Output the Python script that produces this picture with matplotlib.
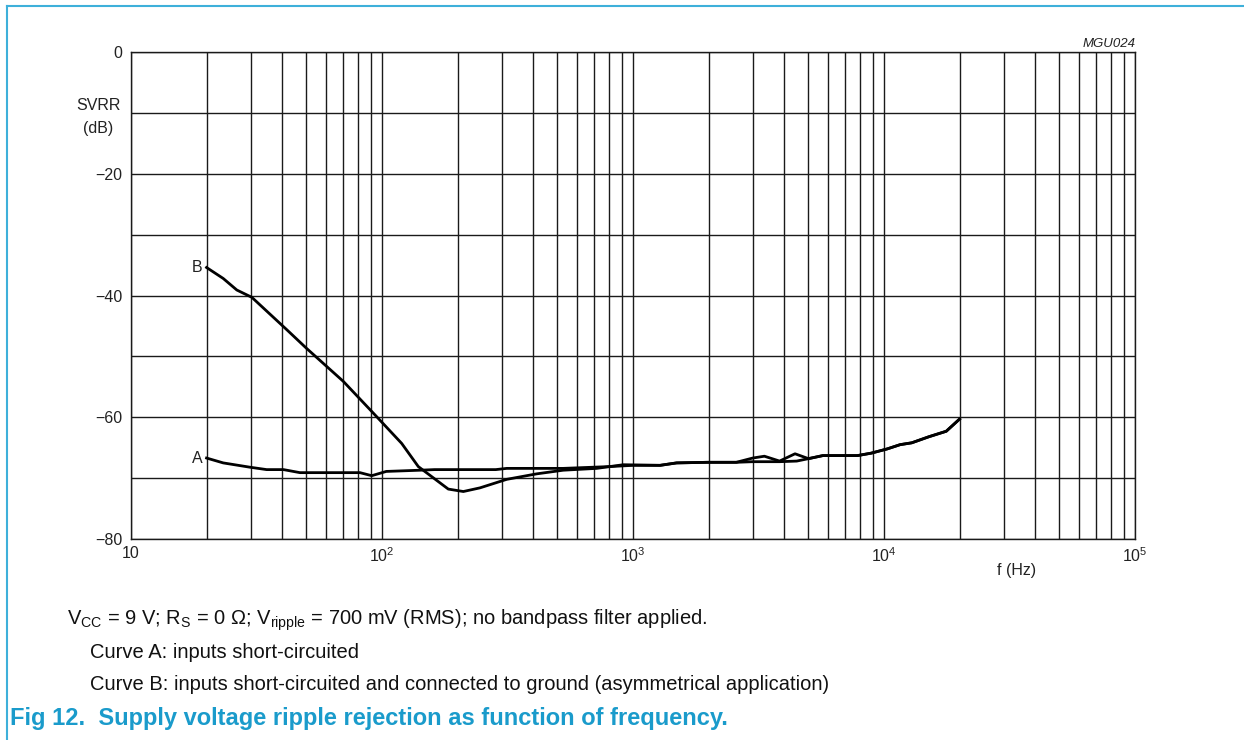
import matplotlib
matplotlib.use('Agg')
import matplotlib.pyplot as plt
from matplotlib.lines import Line2D
from matplotlib.ticker import FixedLocator, NullFormatter
import numpy as np

plt.rcParams['font.family'] = ['Liberation Sans', 'DejaVu Sans']
plt.rcParams['mathtext.fontset'] = 'custom'
plt.rcParams['mathtext.rm'] = 'Liberation Sans'
plt.rcParams['mathtext.default'] = 'regular'

# curve A: inputs short-circuited
freq_a = [20, 23.3, 29.7, 34.7, 40.5, 47.1, 81.7, 91, 104, 141.7, 162, 284, 314,
          527, 810, 1000, 1282, 1492, 1984, 2580, 3000, 3837, 4490, 5003,
          5703, 7836, 8890, 10300, 11600, 12900, 15100, 17700, 20000]
svrr_a = [-66.7, -67.5, -68.2, -68.6, -68.6, -69.1, -69.1, -69.6, -68.9, -68.7, -68.6, -68.6, -68.4,
          -68.4, -68.1, -67.9, -67.9, -67.5, -67.4, -67.4, -67.3, -67.3, -67.2, -66.8,
          -66.3, -66.3, -65.9, -65.2, -64.5, -64.2, -63.2, -62.3, -60.3]

# curve B: inputs short-circuited and connected to ground
freq_b = [20, 23.3, 26.4, 30.3, 41.7, 50.1, 70.1, 95.2, 119.8, 139.5, 183.7, 210.9,
          245.6, 314, 413, 527, 716, 915, 1282, 1492, 1984, 2580, 3000, 3338,
          3837, 4421, 5003, 5703, 7836, 8890, 10300, 11600, 12900, 15100, 17700, 20000]
svrr_b = [-35.4, -37.2, -39.1, -40.3, -45.6, -48.7, -54.1, -59.9, -64.3, -68.1, -71.8, -72.2,
          -71.6, -70.2, -69.3, -68.7, -68.4, -67.8, -67.9, -67.5, -67.4, -67.4, -66.7, -66.4,
          -67.2, -66.0, -66.8, -66.3, -66.3, -65.9, -65.2, -64.5, -64.2, -63.2, -62.3, -60.3]

decades = [10, 100, 1000, 10000, 100000]
decade_labels = ['10', '$10^2$', '$10^3$', '$10^4$', '$10^5$']
y_major = [0, -20, -40, -60, -80]
y_labels = ['0', '\u221220', '\u221240', '\u221260', '\u221280']
y_minor = [-10, -30, -50, -70]

TXT = '#222222'
FS = 11.5

fig = plt.figure(figsize=(12.44, 7.40), dpi=100)
ax = fig.add_axes([131 / 1244, 1 - 539 / 740, (1135 - 131) / 1244, (539 - 52) / 740])

ax.set_xscale('log')
ax.set_xlim(10, 1e5)
ax.set_ylim(-80, 0)

minor_x = [m * d for d in decades[:-1] for m in range(2, 10)]
ax.xaxis.set_major_locator(FixedLocator(decades))
ax.xaxis.set_minor_locator(FixedLocator(minor_x))
ax.xaxis.set_minor_formatter(NullFormatter())
ax.set_xticklabels(decade_labels)
ax.yaxis.set_major_locator(FixedLocator(y_major))
ax.yaxis.set_minor_locator(FixedLocator(y_minor))
ax.set_yticklabels(y_labels)

ax.tick_params(which='both', length=0, labelsize=FS, colors=TXT)
ax.tick_params(axis='x', pad=5)
ax.tick_params(axis='y', pad=6)
ax.grid(which='both', color='#1a1a1a', linewidth=1.0)
for sp in ax.spines.values():
    sp.set_color('#1a1a1a')
    sp.set_linewidth(1.0)

ax.plot(freq_a, svrr_a, color='black', linewidth=2.0, zorder=3)
ax.plot(freq_b, svrr_b, color='black', linewidth=2.0, zorder=3)

ax.text(19.3, svrr_a[0], 'A', ha='right', va='center', fontsize=FS, color=TXT)
ax.text(19.3, svrr_b[0], 'B', ha='right', va='center', fontsize=FS, color=TXT)

fig.text(98 / 1244, 1 - 105 / 740, 'SVRR', ha='center', va='center', fontsize=FS, color=TXT)
fig.text(98 / 1244, 1 - 129 / 740, '(dB)', ha='center', va='center', fontsize=FS, color=TXT)
fig.text(1017 / 1244, 1 - 571 / 740, 'f (Hz)', ha='center', va='center', fontsize=FS, color=TXT)
fig.text(1136 / 1244, 1 - 44 / 740, 'MGU024', ha='right', va='center', fontsize=9.5,
         style='italic', color=TXT)

fig.text(67 / 1244, 1 - 620 / 740,
         'V$_{CC}$ = 9 V; R$_S$ = 0 \u03a9; V$_{ripple}$ = 700 mV (RMS); no bandpass filter applied.',
         ha='left', va='center', fontsize=14.5, color='#111111')
fig.text(90 / 1244, 1 - 652 / 740, 'Curve A: inputs short-circuited',
         ha='left', va='center', fontsize=14.5, color='#111111')
fig.text(90 / 1244, 1 - 685 / 740,
         'Curve B: inputs short-circuited and connected to ground (asymmetrical application)',
         ha='left', va='center', fontsize=14.5, color='#111111')
fig.text(10 / 1244, 1 - 718 / 740, 'Fig 12.  Supply voltage ripple rejection as function of frequency.',
         ha='left', va='center', fontsize=17, fontweight='bold', color='#1a9bcb')

# page frame lines (top and left)
fig.add_artist(Line2D([7 / 1244, 1], [1 - 6 / 740, 1 - 6 / 740], color='#3eb0da', linewidth=1.5))
fig.add_artist(Line2D([7 / 1244, 7 / 1244], [0, 1 - 6 / 740], color='#3eb0da', linewidth=1.5))

fig.savefig('out.png', dpi=100)
